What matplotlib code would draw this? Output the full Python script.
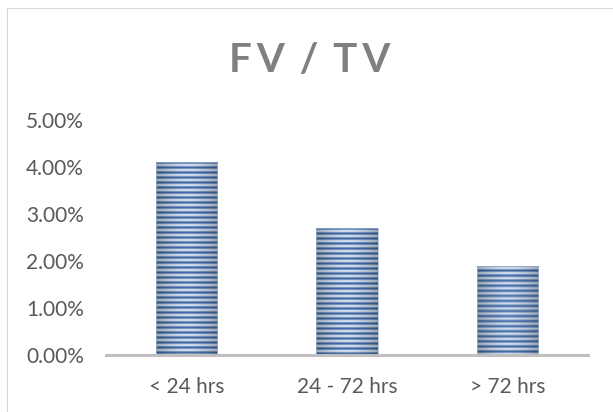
import numpy as np
import matplotlib
matplotlib.use('Agg')
import matplotlib.pyplot as plt
from matplotlib.patches import Rectangle
from matplotlib.ticker import PercentFormatter, MultipleLocator

# data
categories = ['< 24 hrs', '24 - 72 hrs', '> 72 hrs']
fv_tv = [0.041, 0.027, 0.019]
title = 'F\u2009V\u2009 / \u2009T\u2009V'

W, H = 613, 412
plt.rcParams['font.family'] = ['Lato', 'DejaVu Sans']

fig = plt.figure(figsize=(W/100, H/100), dpi=100)
fig.set_facecolor('white')
ax = fig.add_axes([106/W, 1-355/H, (588-106)/W, (355-120)/H])

x = np.arange(len(categories))
bars = ax.bar(x, fv_tv, width=0.38, facecolor='none', edgecolor='#9fb4d4', linewidth=0.5, zorder=3)
ax.set_xlim(-0.5, len(categories) - 0.5)
ax.set_ylim(0, 0.05)

# striped, horizontally shaded fill like the excel texture
dark = np.array([66, 108, 168]) / 255.
light = np.array([222, 232, 246]) / 255.
for rect in bars:
    x0, w, h = rect.get_x(), rect.get_width(), rect.get_height()
    pix = ax.transData.transform([(x0, 0), (x0 + w, h)])
    nrows = max(int(round(abs(pix[1, 1] - pix[0, 1]))), 2)
    ncols = max(int(round(abs(pix[1, 0] - pix[0, 0]))), 2)
    r = np.arange(nrows)[:, None]
    s = 0.5 + 0.5*np.cos(2*np.pi*r/5.)
    u = np.linspace(-1, 1, ncols)[None, :]
    shade = 1 - 0.25*np.abs(u)**1.6
    img = (light[None, None, :]*(1 - s[..., None]) + dark[None, None, :]*s[..., None])
    img = img * shade[..., None]
    im = ax.imshow(np.clip(img, 0, 1), extent=(x0, x0 + w, 0, h), aspect='auto',
                   origin='upper', interpolation='bilinear', zorder=2)
    im.set_clip_path(rect)

ax.set_xlim(-0.5, len(categories) - 0.5)
ax.set_ylim(0, 0.05)
ax.set_aspect('auto')

ax.set_xticks(x)
ax.set_xticklabels(categories)
ax.yaxis.set_major_locator(MultipleLocator(0.01))
ax.yaxis.set_major_formatter(PercentFormatter(xmax=1, decimals=2))
for sp in ['top', 'right', 'left']:
    ax.spines[sp].set_visible(False)
ax.spines['bottom'].set_color('#bfbfbf')
ax.spines['bottom'].set_linewidth(2.2)
ax.spines['bottom'].set_zorder(4)
ax.tick_params(axis='both', length=0, labelsize=15, labelcolor='#595959')
ax.tick_params(axis='y', pad=16)
ax.tick_params(axis='x', pad=16)

fig.text(310/W, 1-72/H, title, ha='center', va='baseline', fontsize=29,
         fontweight='bold', color='#808080')

# chart area border (only left and top visible in the crop)
fig.add_artist(Rectangle((6.5/W, -1), 2, (1-7.5/H) + 1, transform=fig.transFigure,
                         fill=False, edgecolor='#d9d9d9', linewidth=0.8))

fig.savefig('out.png', dpi=100, facecolor='white')
